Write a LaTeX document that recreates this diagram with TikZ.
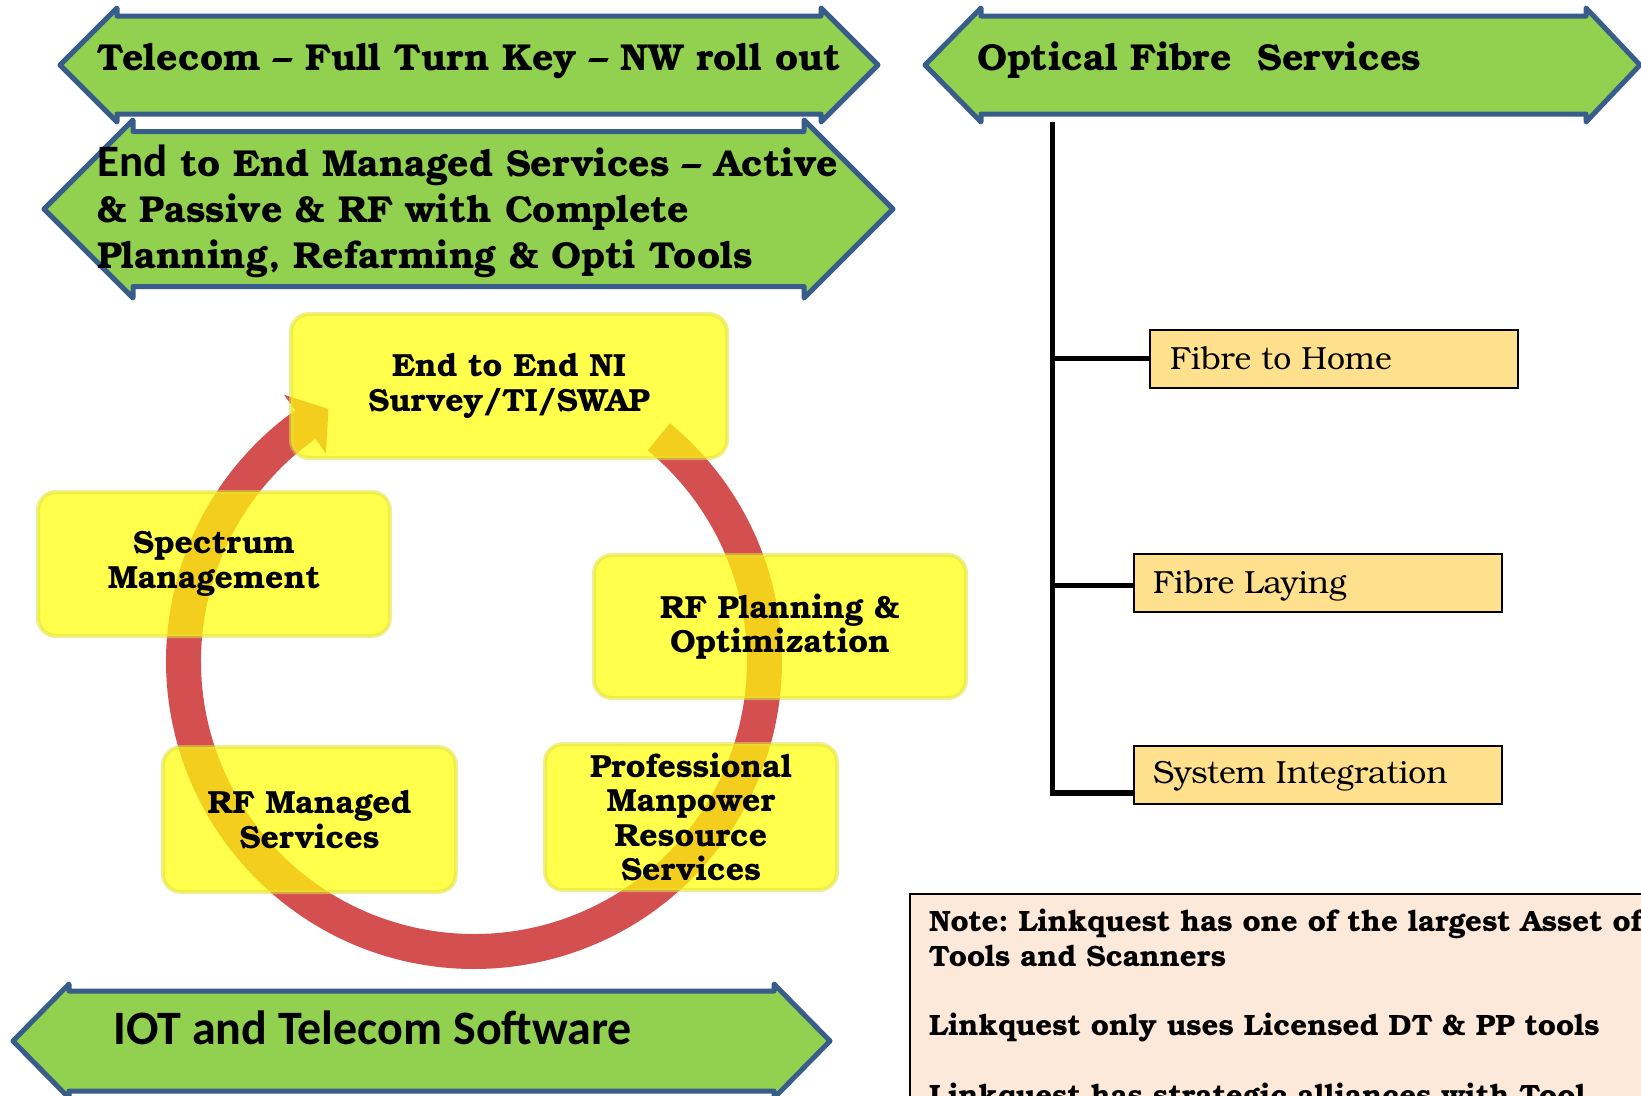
\documentclass[tikz,border=0pt]{standalone}
\usepackage{fontspec}
\setmainfont{TeX Gyre Bonum}
\newfontfamily\calib{Carlito}
\usetikzlibrary{calc}
\definecolor{bannergreen}{RGB}{146,208,80}
\definecolor{bannerblue}{RGB}{56,93,138}
\definecolor{ringred}{RGB}{212,80,80}
\definecolor{boxyellow}{RGB}{255,255,8}
\definecolor{boxedge}{RGB}{225,225,60}
\definecolor{fibrefill}{RGB}{255,224,140}
\definecolor{notefill}{RGB}{253,233,217}
\frenchspacing
\begin{document}
\begin{tikzpicture}[x=1pt,y=-1pt,
  banner/.style={fill=bannergreen, draw=bannerblue, line width=5pt, line join=round},
  bannertext/.style={anchor=base west, inner sep=0pt, font=\fontsize{37.5}{44}\selectfont\bfseries},
  ybox/.style={rounded corners=18pt, fill=boxyellow, fill opacity=0.72, draw=boxedge, draw opacity=0.55, line width=4pt, text opacity=1, align=center, font=\fontsize{32}{34.5}\selectfont\bfseries, inner sep=0pt},
  fibrebox/.style={draw=black, line width=1.5pt, fill=fibrefill, anchor=north west, inner sep=0pt},
  fibretext/.style={anchor=base west, inner sep=0pt, font=\fontsize{32}{36}\selectfont},
  notetext/.style={anchor=base west, inner sep=0pt, font=\fontsize{29.4}{34}\selectfont\bfseries},
  treeline/.style={line width=5pt, black}
]
\clip (0,0) rectangle (1641,1095);
\fill[white] (0,0) rectangle (1641,1095);

% banners
\draw[banner] (60,65) -- (117,8) -- (117,16) -- (821,16) -- (821,8) -- (878,65) -- (821,122) -- (821,114) -- (117,114) -- (117,122) -- cycle;
\draw[banner] (44,209) -- (133,120) -- (133,131.5) -- (804,131.5) -- (804,120) -- (893,209) -- (804,298) -- (804,286.5) -- (133,286.5) -- (133,298) -- cycle;
\draw[banner] (925,65) -- (981,8) -- (981,16) -- (1586,16) -- (1586,8) -- (1640,65) -- (1586,122) -- (1586,114) -- (981,114) -- (981,122) -- cycle;
\draw[banner] (13,1041) -- (69,984) -- (69,991) -- (774,991) -- (774,984) -- (830,1041) -- (774,1098) -- (774,1091) -- (69,1091) -- (69,1098) -- cycle;

\node[bannertext] (t1) at (97,70) {Telecom – Full Turn Key – NW roll out};
\node[bannertext] (t2a) at (97,176) {{\calib\fontsize{45}{44}\selectfont End} to End Managed Services – Active};
\node[bannertext] (t2b) at (97,222) {\& Passive \& RF with Complete};
\node[bannertext] (t2c) at (97,268) {Planning, Refarming \& Opti Tools};
\node[bannertext] (t3) at (977,70) {Optical Fibre~ Services};
\node[bannertext, font=\calib\fontsize{48}{50}\selectfont\bfseries] (t4) at (113,1044) {IOT and Telecom Software};

% ring arrow
\coordinate (c) at (474,661);
\fill[ringred] ($(c)+(-50.5:308)$) arc[start angle=-50.5, end angle=234.5, radius=308]
  -- ($(c)+(234.5:327)$) -- ($(c)+(240:291)$) -- ($(c)+(234.5:255)$)
  -- ($(c)+(234.5:273)$) arc[start angle=234.5, end angle=-50.5, radius=273] -- cycle;

% yellow boxes
\node[ybox, minimum width=436, minimum height=144] (a) at (509,386) {End to End NI\\Survey/TI/SWAP};
\node[ybox, minimum width=352, minimum height=144] (b) at (214,564) {Spectrum\\Management};
\node[ybox, minimum width=372, minimum height=143] (cc) at (780,626.5) {RF Planning \&\\Optimization};
\node[ybox, minimum width=293, minimum height=145] (d) at (309.5,819.5) {RF Managed\\Services};
\node[ybox, minimum width=292, minimum height=146] (e) at (691,817) {Professional\\Manpower\\Resource\\Services};

% fibre tree
\node[fibrebox, minimum width=368, minimum height=58] (fth) at (1149,329) {};
\node[fibrebox, minimum width=368, minimum height=58] (fl) at (1133,553) {};
\node[fibrebox, minimum width=368, minimum height=58] (si) at (1133,745) {};
\node[fibretext] (fthT) at (1170,369) {Fibre to Home};
\node[fibretext] (flT) at (1153,593) {Fibre Laying};
\node[fibretext] (siT) at (1153,783) {System Integration};
\coordinate (top) at (1052,122);
\coordinate (bot) at (1052,793);
\draw[treeline] (top) -- (bot);
\draw[treeline] (fth.west) -- (fth.west -| top);
\draw[treeline] ($(fl.west)+(0,3)$) -- ($(fl.west -| top)+(0,3)$);
\draw[treeline, line width=6.5pt] ($(bot)+(-2.5,0)$) -- (bot -| si.west);

% note box
\node[draw=black, line width=2pt, fill=notefill, anchor=north west, minimum width=760, minimum height=240] (note) at (909,893) {};
\node[notetext] (n1) at (929,931) {Note: Linkquest has one of the largest Asset of};
\node[notetext] (n2) at (929,966) {Tools and Scanners};
\node[notetext] (n3) at (929,1035) {Linkquest only uses Licensed DT \& PP tools};
\node[notetext] (n4) at (929,1105) {Linkquest has strategic alliances with Tool};
\end{tikzpicture}
\end{document}
